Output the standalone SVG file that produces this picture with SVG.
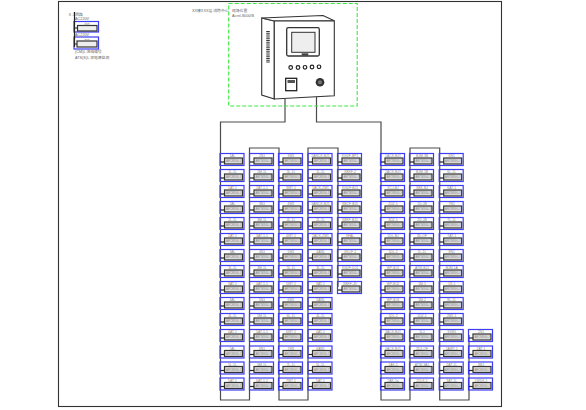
<svg xmlns="http://www.w3.org/2000/svg" width="586" height="410" viewBox="0 0 586 410">
<style>
text{font-family:"Liberation Sans","Noto Sans CJK SC",sans-serif;fill:#888}
.l{font-size:3.4px;text-anchor:middle}
.i{font-size:2.8px;text-anchor:middle;fill:#888}
.t{font-size:3.8px;fill:#666}
.bus{fill:none;stroke:#4c4c4c;stroke-width:1.2}
.cab{fill:#fff;stroke:#333;stroke-width:1.1}
</style>
<defs>
<g id="b">
<rect x=".5" y=".5" width="24" height="12" fill="none" stroke="#3c3cf2" stroke-width="1.2"/>
<rect x="5" y="5" width="18" height="6" fill="#dcdcdc" stroke="#333" stroke-width="1.2"/>
<path d="M1 9H5" stroke="#222" stroke-width="1.200"/>
<text class="i" x="14" y="9">ARCM300-J</text>
</g>
</defs>
<rect x="58.500" y="1.500" width="443" height="405" fill="#fff" stroke="#333" stroke-width="1.100"/>
<g id="connectors">
<path class="bus" d="M285 99V122H220.500V400H249.500V148H279V400H308V148H338V287"/>
<path class="bus" d="M316.500 97V122H381V400H410V148H439.700V400H469V335"/>
</g>
<g id="cabinet">
<rect x="228.700" y="3.500" width="128.500" height="102.500" fill="none" stroke="#3fe83f" stroke-width="1.100" stroke-dasharray="4 2"/>
<path class="cab" d="M261.700 18L274.300 21V99L261.700 95Z"/>
<path class="cab" d="M261.700 18L323 15.500L334.300 20.700L274.300 21Z"/>
<path class="cab" d="M274.300 21L334.300 20.700V95.700L274.300 99Z"/>
<path d="M268 31V63" stroke="#333" stroke-width="3.500" stroke-dasharray="1 .8" fill="none"/>
<rect x="286.700" y="27.700" width="32.600" height="28.300" rx="1.500" fill="#fff" stroke="#333" stroke-width="1.300"/>
<rect x="291.700" y="32.300" width="23.300" height="20" fill="#eee" stroke="#333" stroke-width="1"/>
<rect x="301.700" y="53.300" width="6.600" height="2.400" fill="#444"/>
<g fill="#fff" stroke="#222" stroke-width="1.200">
<circle cx="290.700" cy="67.500" r="1.800"/><circle cx="298" cy="67.500" r="1.800"/><circle cx="305" cy="67.300" r="1.800"/><circle cx="312" cy="67" r="1.800"/><circle cx="319" cy="66.800" r="1.800"/>
</g>
<rect x="285.700" y="78.300" width="11" height="12.400" fill="#fff" stroke="#222" stroke-width="1.300"/>
<rect x="287.500" y="80" width="7.500" height="3" fill="#555"/>
<circle cx="320" cy="82.300" r="4.300" fill="#333"/>
<circle cx="320" cy="82.300" r="2" fill="#777"/>
</g>
<text class="t" x="192" y="11.500">XX楼XXX层 消防中心</text>
<text class="t" x="232" y="11.500">现场位置</text>
<text class="t" x="232" y="17">Acrel-8000/B</text>
<g id="legend">
<text class="t" x="68" y="15.500">Ⅱ-1回路</text>
<text class="t" x="75" y="20">AC220V</text>
<text class="t" x="75" y="35.500">AC220V</text>
<g id="legend-1" transform="translate(73.500,21)"><rect x=".5" y=".5" width="24.500" height="10.500" fill="none" stroke="#3c3cf2" stroke-width="1.200"/><rect x="4" y="4.500" width="19.500" height="5.500" fill="#eee" stroke="#333" stroke-width="1.200"/><text class="i" x="13.500" y="3.800">进线</text></g>
<g id="legend-2" transform="translate(73.500,36.500)"><rect x=".5" y=".5" width="24.500" height="12" fill="none" stroke="#3c3cf2" stroke-width="1.200"/><rect x="3.500" y="4.500" width="20" height="6" fill="#eee" stroke="#333" stroke-width="1.200"/><text class="i" x="13.500" y="4">出线</text></g>
<path d="M74.500 12V47M74.500 28H77.500M74.500 44H77" stroke="#222" stroke-width="1.200" fill="none"/>
<text class="t" x="75" y="53">(CM)L 进线编号</text>
<text class="t" x="75" y="58.500">ATS(S)L 双电源监测</text>
</g>
<g id="a1" transform="translate(219.500,153)"><use href="#b"/><text class="l" x="13" y="4">1AL</text></g>
<g id="a2" transform="translate(219.500,169)"><use href="#b"/><text class="l" x="13" y="4">1L-1L</text></g>
<g id="a3" transform="translate(219.500,185)"><use href="#b"/><text class="l" x="13" y="4">1AT-1</text></g>
<g id="a4" transform="translate(219.500,201)"><use href="#b"/><text class="l" x="13" y="4">2AL</text></g>
<g id="a5" transform="translate(219.500,217)"><use href="#b"/><text class="l" x="13" y="4">2L-1L</text></g>
<g id="a6" transform="translate(219.500,233)"><use href="#b"/><text class="l" x="13" y="4">2AT-1</text></g>
<g id="a7" transform="translate(219.500,249)"><use href="#b"/><text class="l" x="13" y="4">3AL</text></g>
<g id="a8" transform="translate(219.500,265)"><use href="#b"/><text class="l" x="13" y="4">3L-1L</text></g>
<g id="a9" transform="translate(219.500,281)"><use href="#b"/><text class="l" x="13" y="4">3AT-1</text></g>
<g id="a10" transform="translate(219.500,297)"><use href="#b"/><text class="l" x="13" y="4">4AL</text></g>
<g id="a11" transform="translate(219.500,313)"><use href="#b"/><text class="l" x="13" y="4">4L-1L</text></g>
<g id="a12" transform="translate(219.500,329)"><use href="#b"/><text class="l" x="13" y="4">4AT-1</text></g>
<g id="a13" transform="translate(219.500,345.500)"><use href="#b"/><text class="l" x="13" y="4">5AL</text></g>
<g id="a14" transform="translate(219.500,361.500)"><use href="#b"/><text class="l" x="13" y="4">5L-1L</text></g>
<g id="a15" transform="translate(219.500,377.500)"><use href="#b"/><text class="l" x="13" y="4">5AT-1</text></g>
<g id="b1" transform="translate(249,153)"><use href="#b"/><text class="l" x="13" y="4">2N1</text></g>
<g id="b2" transform="translate(249,169)"><use href="#b"/><text class="l" x="13" y="4">2M-1L</text></g>
<g id="b3" transform="translate(249,185)"><use href="#b"/><text class="l" x="13" y="4">2AT-1-1</text></g>
<g id="b4" transform="translate(249,201)"><use href="#b"/><text class="l" x="13" y="4">3N1</text></g>
<g id="b5" transform="translate(249,217)"><use href="#b"/><text class="l" x="13" y="4">3M-1L</text></g>
<g id="b6" transform="translate(249,233)"><use href="#b"/><text class="l" x="13" y="4">3AT-1-1</text></g>
<g id="b7" transform="translate(249,249)"><use href="#b"/><text class="l" x="13" y="4">4N1</text></g>
<g id="b8" transform="translate(249,265)"><use href="#b"/><text class="l" x="13" y="4">4M-1L</text></g>
<g id="b9" transform="translate(249,281)"><use href="#b"/><text class="l" x="13" y="4">4AT-1-1</text></g>
<g id="b10" transform="translate(249,297)"><use href="#b"/><text class="l" x="13" y="4">5N1</text></g>
<g id="b11" transform="translate(249,313)"><use href="#b"/><text class="l" x="13" y="4">5M-1L</text></g>
<g id="b12" transform="translate(249,329)"><use href="#b"/><text class="l" x="13" y="4">5AT-1-1</text></g>
<g id="b13" transform="translate(249,345.500)"><use href="#b"/><text class="l" x="13" y="4">6N1</text></g>
<g id="b14" transform="translate(249,361.500)"><use href="#b"/><text class="l" x="13" y="4">6M-1L</text></g>
<g id="b15" transform="translate(249,377.500)"><use href="#b"/><text class="l" x="13" y="4">6AT-1-1</text></g>
<g id="c1" transform="translate(278,153)"><use href="#b"/><text class="l" x="13" y="4">3W1</text></g>
<g id="c2" transform="translate(278,169)"><use href="#b"/><text class="l" x="13" y="4">3L-1L</text></g>
<g id="c3" transform="translate(278,185)"><use href="#b"/><text class="l" x="13" y="4">3WT-1</text></g>
<g id="c4" transform="translate(278,201)"><use href="#b"/><text class="l" x="13" y="4">4W1</text></g>
<g id="c5" transform="translate(278,217)"><use href="#b"/><text class="l" x="13" y="4">4L-1L</text></g>
<g id="c6" transform="translate(278,233)"><use href="#b"/><text class="l" x="13" y="4">4WT-1</text></g>
<g id="c7" transform="translate(278,249)"><use href="#b"/><text class="l" x="13" y="4">5W1</text></g>
<g id="c8" transform="translate(278,265)"><use href="#b"/><text class="l" x="13" y="4">5L-1L</text></g>
<g id="c9" transform="translate(278,281)"><use href="#b"/><text class="l" x="13" y="4">5WT-1</text></g>
<g id="c10" transform="translate(278,297)"><use href="#b"/><text class="l" x="13" y="4">6W1</text></g>
<g id="c11" transform="translate(278,313)"><use href="#b"/><text class="l" x="13" y="4">6L-1L</text></g>
<g id="c12" transform="translate(278,329)"><use href="#b"/><text class="l" x="13" y="4">6WT-1</text></g>
<g id="c13" transform="translate(278,345.500)"><use href="#b"/><text class="l" x="13" y="4">7W1</text></g>
<g id="c14" transform="translate(278,361.500)"><use href="#b"/><text class="l" x="13" y="4">7L-1L</text></g>
<g id="c15" transform="translate(278,377.500)"><use href="#b"/><text class="l" x="13" y="4">7WT-1</text></g>
<g id="d1" transform="translate(307.500,153)"><use href="#b"/><text class="l" x="13" y="4">2ANCK-BJ1</text></g>
<g id="d2" transform="translate(307.500,169)"><use href="#b"/><text class="l" x="13" y="4">1L-1L</text></g>
<g id="d3" transform="translate(307.500,185)"><use href="#b"/><text class="l" x="13" y="4">1ACK-ZM1</text></g>
<g id="d4" transform="translate(307.500,201)"><use href="#b"/><text class="l" x="13" y="4">3ANCK-BJ1</text></g>
<g id="d5" transform="translate(307.500,217)"><use href="#b"/><text class="l" x="13" y="4">2L-1L</text></g>
<g id="d6" transform="translate(307.500,233)"><use href="#b"/><text class="l" x="13" y="4">2ACK-ZM1</text></g>
<g id="d7" transform="translate(307.500,249)"><use href="#b"/><text class="l" x="13" y="4">4AN1</text></g>
<g id="d8" transform="translate(307.500,265)"><use href="#b"/><text class="l" x="13" y="4">3L-1L</text></g>
<g id="d9" transform="translate(307.500,281)"><use href="#b"/><text class="l" x="13" y="4">3AT-1</text></g>
<g id="d10" transform="translate(307.500,297)"><use href="#b"/><text class="l" x="13" y="4">5AN1</text></g>
<g id="d11" transform="translate(307.500,313)"><use href="#b"/><text class="l" x="13" y="4">4L-1L</text></g>
<g id="d12" transform="translate(307.500,329)"><use href="#b"/><text class="l" x="13" y="4">4AT-1</text></g>
<g id="d13" transform="translate(307.500,345.500)"><use href="#b"/><text class="l" x="13" y="4">6AN1</text></g>
<g id="d14" transform="translate(307.500,361.500)"><use href="#b"/><text class="l" x="13" y="4">5L-1L</text></g>
<g id="d15" transform="translate(307.500,377.500)"><use href="#b"/><text class="l" x="13" y="4">5AT-1</text></g>
<g id="e1" transform="translate(337,153)"><use href="#b"/><text class="l" x="13" y="4">XGDF-BP1</text></g>
<g id="e2" transform="translate(337,169)"><use href="#b"/><text class="l" x="13" y="4">XBKF-2</text></g>
<g id="e3" transform="translate(337,185)"><use href="#b"/><text class="l" x="13" y="4">XGDF-BJ1</text></g>
<g id="e4" transform="translate(337,201)"><use href="#b"/><text class="l" x="13" y="4">XBCF-BJ1</text></g>
<g id="e5" transform="translate(337,217)"><use href="#b"/><text class="l" x="13" y="4">XBKF-BJ1</text></g>
<g id="e6" transform="translate(337,233)"><use href="#b"/><text class="l" x="13" y="4">XFAL</text></g>
<g id="e7" transform="translate(337,249)"><use href="#b"/><text class="l" x="13" y="4">XKCF-1</text></g>
<g id="e8" transform="translate(337,265)"><use href="#b"/><text class="l" x="13" y="4">XGDF-DJ1</text></g>
<g id="e9" transform="translate(337,281)"><use href="#b"/><text class="l" x="13" y="4">XBKF-JD</text></g>
<g id="f1" transform="translate(380,153)"><use href="#b"/><text class="l" x="13" y="4">1ACK-BJ1</text></g>
<g id="f2" transform="translate(380,169)"><use href="#b"/><text class="l" x="13" y="4">2ACK-BJ1</text></g>
<g id="f3" transform="translate(380,185)"><use href="#b"/><text class="l" x="13" y="4">XCJ-BJ</text></g>
<g id="f4" transform="translate(380,201)"><use href="#b"/><text class="l" x="13" y="4">2DZ-1</text></g>
<g id="f5" transform="translate(380,217)"><use href="#b"/><text class="l" x="13" y="4">3DZ-1</text></g>
<g id="f6" transform="translate(380,233)"><use href="#b"/><text class="l" x="13" y="4">1DL-BJ</text></g>
<g id="f7" transform="translate(380,249)"><use href="#b"/><text class="l" x="13" y="4">1DL-1</text></g>
<g id="f8" transform="translate(380,265)"><use href="#b"/><text class="l" x="13" y="4">WP-BJ1</text></g>
<g id="f9" transform="translate(380,281)"><use href="#b"/><text class="l" x="13" y="4">WP-BJ2</text></g>
<g id="f10" transform="translate(380,297)"><use href="#b"/><text class="l" x="13" y="4">WP-BJ3</text></g>
<g id="f11" transform="translate(380,313)"><use href="#b"/><text class="l" x="13" y="4">1DL-2</text></g>
<g id="f12" transform="translate(380,329)"><use href="#b"/><text class="l" x="13" y="4">3ACK-BJ1</text></g>
<g id="f13" transform="translate(380,345.500)"><use href="#b"/><text class="l" x="13" y="4">4ACK-BJ1</text></g>
<g id="f14" transform="translate(380,361.500)"><use href="#b"/><text class="l" x="13" y="4">1AK-1</text></g>
<g id="f15" transform="translate(380,377.500)"><use href="#b"/><text class="l" x="13" y="4">2AK-1a</text></g>
<g id="g1" transform="translate(409,153)"><use href="#b"/><text class="l" x="13" y="4">BJM-3B</text></g>
<g id="g2" transform="translate(409,169)"><use href="#b"/><text class="l" x="13" y="4">BJM-1B</text></g>
<g id="g3" transform="translate(409,185)"><use href="#b"/><text class="l" x="13" y="4">XBK-BJ</text></g>
<g id="g4" transform="translate(409,201)"><use href="#b"/><text class="l" x="13" y="4">1D-JB</text></g>
<g id="g5" transform="translate(409,217)"><use href="#b"/><text class="l" x="13" y="4">2D-JB</text></g>
<g id="g6" transform="translate(409,233)"><use href="#b"/><text class="l" x="13" y="4">3D-QF</text></g>
<g id="g7" transform="translate(409,249)"><use href="#b"/><text class="l" x="13" y="4">1L-1L</text></g>
<g id="g8" transform="translate(409,265)"><use href="#b"/><text class="l" x="13" y="4">ATW-BJ1</text></g>
<g id="g9" transform="translate(409,281)"><use href="#b"/><text class="l" x="13" y="4">1M-1</text></g>
<g id="g10" transform="translate(409,297)"><use href="#b"/><text class="l" x="13" y="4">1M-2</text></g>
<g id="g11" transform="translate(409,313)"><use href="#b"/><text class="l" x="13" y="4">1DZ-1</text></g>
<g id="g12" transform="translate(409,329)"><use href="#b"/><text class="l" x="13" y="4">1L1</text></g>
<g id="g13" transform="translate(409,345.500)"><use href="#b"/><text class="l" x="13" y="4">2DZ-QF</text></g>
<g id="g14" transform="translate(409,361.500)"><use href="#b"/><text class="l" x="13" y="4">ATW-3A1</text></g>
<g id="g15" transform="translate(409,377.500)"><use href="#b"/><text class="l" x="13" y="4">2DLK-1</text></g>
<g id="h1" transform="translate(438.700,153)"><use href="#b"/><text class="l" x="13" y="4">6N1</text></g>
<g id="h2" transform="translate(438.700,169)"><use href="#b"/><text class="l" x="13" y="4">6L-1L</text></g>
<g id="h3" transform="translate(438.700,185)"><use href="#b"/><text class="l" x="13" y="4">6AT-1</text></g>
<g id="h4" transform="translate(438.700,201)"><use href="#b"/><text class="l" x="13" y="4">7N1</text></g>
<g id="h5" transform="translate(438.700,217)"><use href="#b"/><text class="l" x="13" y="4">7L-1L</text></g>
<g id="h6" transform="translate(438.700,233)"><use href="#b"/><text class="l" x="13" y="4">7AT-1</text></g>
<g id="h7" transform="translate(438.700,249)"><use href="#b"/><text class="l" x="13" y="4">8N1</text></g>
<g id="h8" transform="translate(438.700,265)"><use href="#b"/><text class="l" x="13" y="4">BJM-1A</text></g>
<g id="h9" transform="translate(438.700,281)"><use href="#b"/><text class="l" x="13" y="4">1X-1</text></g>
<g id="h10" transform="translate(438.700,297)"><use href="#b"/><text class="l" x="13" y="4">8L-1L</text></g>
<g id="h11" transform="translate(438.700,313)"><use href="#b"/><text class="l" x="13" y="4">2M1-1</text></g>
<g id="h12" transform="translate(438.700,329)"><use href="#b"/><text class="l" x="13" y="4">3XM1</text></g>
<g id="h13" transform="translate(438.700,345.500)"><use href="#b"/><text class="l" x="13" y="4">1AWT-1</text></g>
<g id="h14" transform="translate(438.700,361.500)"><use href="#b"/><text class="l" x="13" y="4">2AT-1L</text></g>
<g id="h15" transform="translate(438.700,377.500)"><use href="#b"/><text class="l" x="13" y="4">3AT-1L</text></g>
<g id="k1" transform="translate(468,329)"><use href="#b"/><text class="l" x="13" y="4">2N1</text></g>
<g id="k2" transform="translate(468,345.500)"><use href="#b"/><text class="l" x="13" y="4">2AT-1</text></g>
<g id="k3" transform="translate(468,361.500)"><use href="#b"/><text class="l" x="13" y="4">3M1</text></g>
<g id="k4" transform="translate(468,377.500)"><use href="#b"/><text class="l" x="13" y="4">1WDK-1</text></g>
</svg>
